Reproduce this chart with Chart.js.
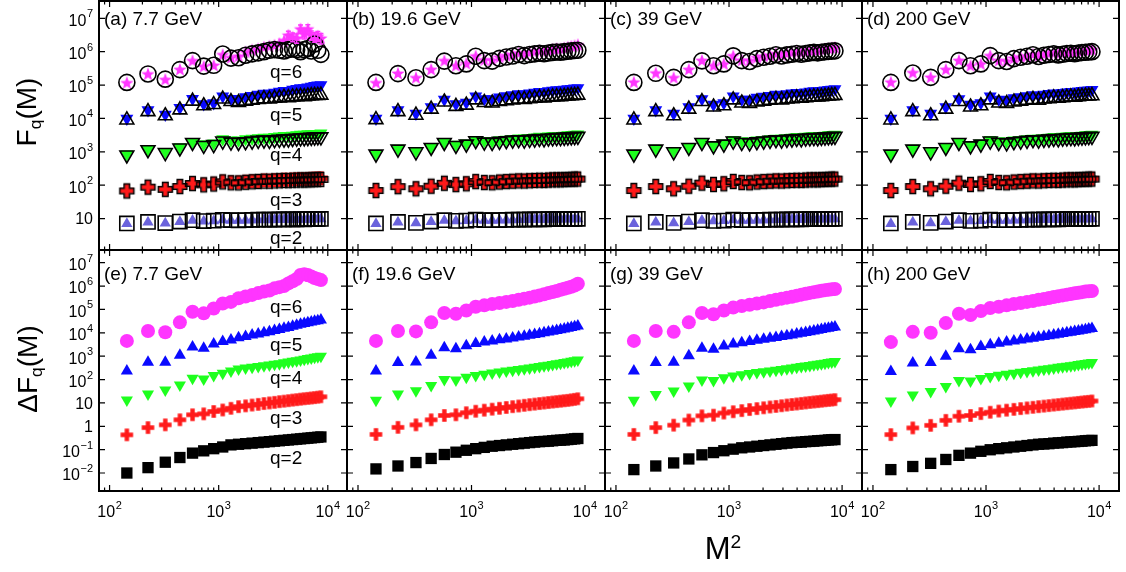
<!DOCTYPE html>
<html>
<head>
<meta charset="utf-8">
<script src="https://cdn.jsdelivr.net/npm/chart.js@4.4.1/dist/chart.umd.min.js"></script>
<style>
body { margin: 0; background: #fff; }
#fig { position: relative; width: 1126px; height: 572px; overflow: hidden; background: #fff;
       font-family: "Liberation Sans", Arial, sans-serif; color: #000; }
#fig canvas { position: absolute; }
.t { position: absolute; white-space: nowrap; line-height: 1; }
.t sub { font-size: 0.62em; vertical-align: -0.28em; }
.t sup { font-size: 0.62em; vertical-align: 0.62em; }
</style>
</head>
<body>
<div id="fig"></div>
<script>
// M^2 bins (x values)
const m2 = [144, 225, 324, 441, 576, 729, 900, 1089, 1296, 1521, 1764, 2025, 2304, 2601,
            2916, 3249, 3600, 3969, 4356, 4761, 5184, 5625, 6084, 6561, 7056, 7569, 8100, 8649];

// ticks
const xMajor = [100, 1000, 10000];
const xMinor = [90, 200, 300, 400, 500, 600, 700, 800, 900, 2000, 3000, 4000, 5000, 6000, 7000, 8000, 9000];
const xExps = [2, 3, 4];
const yExpsTop = [1, 2, 3, 4, 5, 6, 7];
const yExpsBot = [-2, -1, 0, 1, 2, 3, 4, 5, 6, 7];

const energies = ['7.7 GeV', '19.6 GeV', '39 GeV', '200 GeV'];
const qLabels = ['q=6', 'q=5', 'q=4', 'q=3', 'q=2'];

// ---- F_q(M), filled (coloured) and open (black) markers ----
// (a) 7.7 GeV
const a6f = [1.2e5,2.2e5,1.5e5,3.0e5,5.5e5,3.7e5,4.0e5,8.3e5,6.8e5,7.5e5,1.0e6,1.15e6,1.25e6,1.4e6,1.5e6,1.6e6,1.8e6,2.2e6,3.2e6,2.8e6,2.6e6,4.9e6,3.5e6,4.9e6,3.2e6,2.8e6,3.0e6,2.6e6];
const a6fErr = [0,0,0,0,0,0,0,0,0,0,0,0,0,0,0,0,0,0,9e5,8e5,8e5,1.4e6,1.1e6,1.5e6,1.0e6,9e5,1.0e6,9e5];
const a6o = [1.2e5,2.15e5,1.5e5,2.9e5,5.4e5,3.7e5,3.9e5,8.5e5,6.4e5,6.6e5,7.8e5,8.6e5,9.2e5,1.0e6,1.1e6,1.15e6,1.1e6,1.05e6,1.15e6,1.2e6,1.15e6,1.0e6,1.15e6,1.25e6,1.05e6,1.7e6,1.1e6,8.3e5];
const a5f = [1.0e4,1.8e4,1.3e4,2.1e4,3.9e4,2.7e4,2.9e4,4.6e4,3.9e4,3.9e4,4.4e4,4.8e4,5.2e4,5.6e4,5.6e4,6.0e4,6.4e4,6.8e4,6.8e4,7.3e4,7.7e4,8.1e4,8.1e4,8.6e4,9.0e4,9.5e4,9.8e4,1.0e5];
const a5o = [9.0e3,1.6e4,1.2e4,1.8e4,3.3e4,2.4e4,2.6e4,3.8e4,3.2e4,3.0e4,3.3e4,3.5e4,3.7e4,3.9e4,3.8e4,4.0e4,4.1e4,4.3e4,4.2e4,4.4e4,4.5e4,4.6e4,4.5e4,4.7e4,4.8e4,4.9e4,4.9e4,5.0e4];
const a4f = [850,1200,1000,1400,2000,1700,1800,2400,2200,2200,2400,2500,2600,2700,2700,2800,2900,3000,3000,3100,3200,3300,3300,3400,3400,3500,3500,3600];
const a4o = [800,1150,950,1300,1900,1550,1650,2100,1950,1900,2000,2100,2200,2250,2200,2300,2350,2400,2400,2500,2550,2600,2600,2650,2700,2750,2800,2800];
const a3f = [68,88,76,92,114,104,110,128,122,121,127,131,134,138,137,141,143,146,145,148,150,152,151,154,155,157,158,160];
const a3o = [67,87,75,91,112,102,108,125,118,117,122,126,129,132,131,134,136,138,137,140,141,143,142,144,145,147,148,149];
const a2f = [7.0,7.8,7.2,8.0,8.8,8.3,8.5,9.0,8.8,8.7,8.9,9.0,9.1,9.2,9.1,9.2,9.3,9.3,9.3,9.4,9.4,9.5,9.4,9.5,9.5,9.6,9.6,9.6];
const a2o = [7.1,7.9,7.3,8.1,8.9,8.4,8.6,9.1,8.9,8.8,9.0,9.1,9.2,9.3,9.2,9.3,9.4,9.4,9.4,9.5,9.5,9.6,9.5,9.6,9.6,9.7,9.7,9.7];
// (b) 19.6 GeV
const b6f = [1.2e5,2.3e5,1.7e5,3.0e5,5.5e5,3.9e5,4.5e5,7.6e5,5.8e5,5.7e5,7.0e5,7.8e5,8.4e5,9.3e5,8.8e5,9.6e5,1.02e6,1.08e6,1.05e6,1.12e6,1.2e6,1.26e6,1.25e6,1.32e6,1.4e6,1.48e6,1.55e6,1.65e6];
const b6o = [1.2e5,2.2e5,1.65e5,2.9e5,5.2e5,3.8e5,4.3e5,7.3e5,5.4e5,5.2e5,6.3e5,6.9e5,7.4e5,8.2e5,7.6e5,8.2e5,8.6e5,9.0e5,8.7e5,9.1e5,9.5e5,9.8e5,9.6e5,1.0e6,1.03e6,1.06e6,1.08e6,1.1e6];
const b5f = [1.0e4,1.8e4,1.4e4,2.2e4,3.7e4,2.7e4,3.0e4,4.6e4,3.8e4,3.8e4,4.3e4,4.7e4,5.0e4,5.4e4,5.3e4,5.7e4,6.0e4,6.3e4,6.2e4,6.6e4,6.9e4,7.1e4,7.1e4,7.4e4,7.6e4,7.8e4,8.0e4,8.2e4];
const b5o = [9.2e3,1.6e4,1.25e4,1.9e4,3.1e4,2.3e4,2.5e4,3.6e4,3.0e4,2.9e4,3.2e4,3.4e4,3.6e4,3.8e4,3.7e4,3.9e4,4.0e4,4.2e4,4.1e4,4.3e4,4.4e4,4.5e4,4.5e4,4.6e4,4.7e4,4.8e4,4.9e4,5.0e4];
const b4f = [880,1250,1050,1400,1950,1650,1800,2300,2150,2100,2250,2350,2450,2550,2550,2650,2750,2850,2800,2900,3000,3050,3050,3100,3200,3250,3300,3350];
const b4o = [850,1200,1000,1350,1900,1550,1700,2150,1950,1900,2050,2150,2250,2300,2250,2350,2400,2500,2450,2550,2600,2650,2650,2700,2750,2800,2850,2900];
const b3f = [70,91,79,94,116,106,112,130,122,120,126,130,134,137,136,139,141,143,143,145,147,149,148,150,152,153,155,156];
const b3o = [69,90,78,93,114,104,110,128,120,118,124,128,131,134,133,136,138,140,139,142,144,145,145,147,148,150,151,152];
const b2f = [7.0,7.8,7.3,8.0,8.8,8.4,8.6,9.1,8.8,8.8,8.9,9.0,9.1,9.2,9.2,9.3,9.3,9.4,9.4,9.5,9.5,9.5,9.5,9.6,9.6,9.6,9.7,9.7];
const b2o = [7.1,7.9,7.4,8.1,8.9,8.5,8.7,9.2,8.9,8.9,9.0,9.1,9.2,9.3,9.3,9.4,9.4,9.5,9.5,9.6,9.6,9.6,9.6,9.7,9.7,9.7,9.8,9.8];
// (c) 39 GeV
const c6f = [1.25e5,2.35e5,1.7e5,3.0e5,5.6e5,3.9e5,4.4e5,7.7e5,5.7e5,5.5e5,6.8e5,7.5e5,8.0e5,8.9e5,8.3e5,9.0e5,9.5e5,1.0e6,9.7e5,1.03e6,1.09e6,1.14e6,1.12e6,1.18e6,1.23e6,1.28e6,1.32e6,1.36e6];
const c6o = [1.2e5,2.25e5,1.7e5,2.9e5,5.3e5,3.8e5,4.3e5,7.5e5,5.4e5,5.1e5,6.2e5,6.8e5,7.3e5,8.1e5,7.4e5,8.0e5,8.4e5,8.8e5,8.4e5,8.8e5,9.2e5,9.5e5,9.2e5,9.6e5,9.9e5,1.02e6,1.04e6,1.06e6];
const c5f = [1.0e4,1.8e4,1.4e4,2.2e4,3.8e4,2.6e4,2.9e4,4.6e4,3.7e4,3.7e4,4.2e4,4.5e4,4.8e4,5.2e4,5.0e4,5.4e4,5.7e4,5.9e4,5.8e4,6.1e4,6.4e4,6.6e4,6.5e4,6.8e4,7.0e4,7.2e4,7.4e4,7.6e4];
const c5o = [9.0e3,1.6e4,1.2e4,1.9e4,3.2e4,2.2e4,2.4e4,3.6e4,2.9e4,2.8e4,3.1e4,3.3e4,3.5e4,3.7e4,3.6e4,3.8e4,3.9e4,4.1e4,4.0e4,4.2e4,4.3e4,4.4e4,4.4e4,4.5e4,4.6e4,4.7e4,4.8e4,4.9e4];
const c4f = [880,1250,1050,1400,2000,1600,1800,2300,2100,2050,2200,2300,2400,2500,2500,2600,2700,2800,2750,2850,2900,3000,2950,3050,3100,3200,3250,3300];
const c4o = [850,1200,1000,1350,1900,1500,1700,2100,1900,1850,2000,2100,2200,2300,2250,2350,2400,2500,2450,2550,2600,2650,2600,2700,2750,2800,2850,2900];
const c3f = [70,92,79,94,117,106,112,131,122,120,126,130,133,137,136,139,141,143,142,145,147,148,147,150,151,153,154,155];
const c3o = [69,91,78,93,115,105,110,129,120,118,124,128,131,134,133,136,138,140,139,142,144,145,144,147,148,150,151,152];
const c2f = [7.0,7.8,7.3,8.0,8.8,8.4,8.6,9.1,8.8,8.8,8.9,9.0,9.1,9.2,9.2,9.3,9.3,9.4,9.4,9.5,9.5,9.5,9.5,9.6,9.6,9.6,9.7,9.7];
const c2o = [7.1,7.9,7.4,8.1,8.9,8.5,8.7,9.2,8.9,8.9,9.0,9.1,9.2,9.3,9.3,9.4,9.4,9.5,9.5,9.6,9.6,9.6,9.6,9.7,9.7,9.7,9.8,9.8];
// (d) 200 GeV
const d6f = [1.25e5,2.4e5,1.75e5,3.0e5,5.6e5,3.9e5,4.4e5,7.8e5,5.6e5,5.3e5,6.5e5,7.1e5,7.6e5,8.5e5,7.8e5,8.4e5,8.9e5,9.4e5,8.9e5,9.4e5,9.9e5,1.03e6,1.0e6,1.05e6,1.09e6,1.12e6,1.15e6,1.18e6];
const d6o = [1.2e5,2.3e5,1.7e5,2.9e5,5.4e5,3.8e5,4.3e5,7.6e5,5.4e5,5.1e5,6.2e5,6.8e5,7.3e5,8.1e5,7.2e5,7.8e5,8.2e5,8.6e5,8.0e5,8.4e5,8.8e5,9.0e5,8.7e5,9.1e5,9.4e5,9.6e5,9.8e5,1.0e6];
const d5f = [1.0e4,1.8e4,1.4e4,2.2e4,3.8e4,2.6e4,2.9e4,4.6e4,3.7e4,3.6e4,4.1e4,4.4e4,4.7e4,5.0e4,4.8e4,5.2e4,5.5e4,5.7e4,5.6e4,5.9e4,6.1e4,6.3e4,6.2e4,6.5e4,6.7e4,6.9e4,7.0e4,7.2e4];
const d5o = [9.0e3,1.6e4,1.2e4,1.9e4,3.2e4,2.2e4,2.4e4,3.6e4,2.9e4,2.8e4,3.1e4,3.3e4,3.5e4,3.7e4,3.5e4,3.8e4,3.9e4,4.1e4,4.0e4,4.2e4,4.3e4,4.4e4,4.3e4,4.5e4,4.6e4,4.7e4,4.7e4,4.8e4];
const d4f = [880,1250,1050,1400,2000,1600,1800,2300,2100,2050,2200,2300,2400,2500,2500,2600,2700,2800,2750,2850,2900,3000,2950,3050,3100,3200,3250,3300];
const d4o = [850,1200,1000,1350,1900,1500,1700,2100,1900,1850,2000,2100,2200,2300,2250,2350,2400,2500,2450,2550,2600,2650,2600,2700,2750,2800,2850,2900];
const d3f = [70,92,79,94,117,106,112,131,122,120,126,130,133,137,136,139,141,143,142,145,147,148,147,150,151,153,154,155];
const d3o = [69,91,78,93,115,105,110,129,120,118,124,128,131,134,133,136,138,140,139,142,144,145,144,147,148,150,151,152];
const d2f = [7.0,7.8,7.3,8.0,8.8,8.4,8.6,9.1,8.8,8.8,8.9,9.0,9.1,9.2,9.2,9.3,9.3,9.4,9.4,9.5,9.5,9.5,9.5,9.6,9.6,9.6,9.7,9.7];
const d2o = [7.1,7.9,7.4,8.1,8.9,8.5,8.7,9.2,8.9,8.9,9.0,9.1,9.2,9.3,9.3,9.4,9.4,9.5,9.5,9.6,9.6,9.6,9.6,9.7,9.7,9.7,9.8,9.8];

// ---- ΔF_q(M) ----
const e6 = [4.5e3,1.2e4,1.05e4,2.8e4,8.0e4,6.8e4,1.1e5,1.8e5,2.1e5,3.0e5,3.6e5,4.2e5,5.0e5,5.8e5,6.5e5,8.0e5,9.0e5,1.0e6,1.3e6,1.6e6,2.0e6,3.0e6,3.2e6,3.0e6,2.6e6,2.2e6,2.0e6,1.8e6];
const e6Err = [0,0,0,0,0,0,0,0,0,0,0,0,0,0,0,0,0,0,0,0,0,0,0,1.4e6,0,0,0,0];
const e5 = [235,550,550,1100,2500,2200,3300,4200,4900,6200,7000,8000,9000,1.0e4,1.1e4,1.25e4,1.4e4,1.55e4,1.7e4,1.9e4,2.1e4,2.3e4,2.5e4,2.7e4,2.9e4,3.1e4,3.3e4,3.5e4];
const e4 = [13.4,24,36,59,114,106,148,187,234,285,310,335,360,390,420,450,480,520,560,600,640,690,740,790,840,890,950,1000];
const e3 = [0.43,0.88,1.15,1.9,3.1,3.4,4.3,5.0,5.9,6.9,7.5,8.1,8.7,9.4,10,10.6,11.3,11.9,12.5,13.2,13.8,14.5,15.1,15.7,16.3,16.9,17.6,18.3];
const e2 = [0.010,0.017,0.029,0.046,0.071,0.089,0.11,0.13,0.16,0.17,0.18,0.19,0.20,0.21,0.22,0.23,0.24,0.25,0.26,0.27,0.28,0.29,0.30,0.31,0.32,0.33,0.34,0.35];
const f6 = [4.5e3,1.2e4,1.15e4,2.8e4,7.0e4,6.5e4,9.0e4,1.3e5,1.5e5,1.7e5,1.9e5,2.1e5,2.3e5,2.6e5,2.9e5,3.2e5,3.6e5,4.0e5,4.5e5,5.0e5,5.6e5,6.2e5,6.9e5,7.6e5,8.4e5,9.3e5,1.05e6,1.25e6];
const f5 = [230,540,560,1100,2300,2100,2800,3500,4000,4500,5000,5500,6000,6600,7200,7800,8500,9200,1.0e4,1.08e4,1.17e4,1.26e4,1.36e4,1.47e4,1.58e4,1.7e4,1.83e4,1.97e4];
const f4 = [13,24,33,55,100,95,125,150,170,190,210,230,250,270,290,310,335,360,385,410,440,470,500,530,565,600,640,690];
const f3 = [0.45,0.9,1.15,1.9,2.9,3.1,3.8,4.4,4.9,5.4,5.9,6.4,6.9,7.4,7.9,8.4,8.9,9.4,9.9,10.4,10.9,11.4,11.9,12.4,12.9,13.5,14.2,15.0];
const f2 = [0.015,0.02,0.028,0.042,0.062,0.078,0.094,0.11,0.125,0.14,0.15,0.16,0.17,0.18,0.19,0.20,0.21,0.22,0.225,0.23,0.24,0.25,0.255,0.26,0.27,0.28,0.29,0.30];
const g6 = [4.5e3,1.2e4,1.1e4,2.8e4,7.0e4,6.2e4,9.0e4,1.2e5,1.4e5,1.6e5,1.8e5,2.0e5,2.3e5,2.6e5,2.9e5,3.2e5,3.5e5,3.9e5,4.3e5,4.7e5,5.1e5,5.5e5,5.9e5,6.3e5,6.7e5,7.0e5,7.3e5,7.5e5];
const g5 = [230,530,550,1050,2200,2000,2700,3300,3800,4300,4800,5300,5800,6300,6900,7500,8100,8800,9500,1.03e4,1.1e4,1.19e4,1.28e4,1.38e4,1.48e4,1.58e4,1.68e4,1.78e4];
const g4 = [13,23,32,53,95,90,118,142,162,180,198,216,234,252,272,292,314,336,358,380,404,428,452,476,502,530,560,590];
const g3 = [0.45,0.88,1.12,1.85,2.8,3.0,3.7,4.2,4.7,5.2,5.7,6.2,6.7,7.1,7.6,8.1,8.6,9.0,9.5,10,10.5,11,11.4,11.9,12.4,12.9,13.3,13.8];
const g2 = [0.014,0.02,0.027,0.04,0.06,0.075,0.09,0.105,0.12,0.13,0.14,0.15,0.16,0.17,0.18,0.19,0.2,0.205,0.21,0.22,0.225,0.23,0.24,0.245,0.25,0.26,0.265,0.27];
const h6 = [4.0e3,1.1e4,1.0e4,2.6e4,6.5e4,5.8e4,8.5e4,1.15e5,1.3e5,1.5e5,1.7e5,1.9e5,2.1e5,2.3e5,2.6e5,2.8e5,3.1e5,3.4e5,3.7e5,4.0e5,4.3e5,4.6e5,4.9e5,5.2e5,5.5e5,5.8e5,6.0e5,6.2e5];
const h5 = [220,510,530,1000,2100,1900,2600,3100,3600,4000,4500,4900,5400,5900,6400,6900,7500,8100,8700,9300,1.0e4,1.07e4,1.14e4,1.21e4,1.28e4,1.36e4,1.44e4,1.52e4];
const h4 = [12,22,31,51,90,86,112,135,153,170,187,204,221,238,256,274,293,312,332,352,372,393,414,436,458,481,505,530];
const h3 = [0.44,0.85,1.1,1.8,2.7,2.9,3.5,4.0,4.5,4.9,5.3,5.7,6.1,6.5,6.9,7.3,7.7,8.1,8.5,8.9,9.3,9.7,10.1,10.5,10.9,11.3,11.7,12.1];
const h2 = [0.014,0.019,0.026,0.038,0.057,0.071,0.085,0.099,0.11,0.12,0.13,0.14,0.15,0.16,0.17,0.175,0.18,0.19,0.195,0.2,0.21,0.215,0.22,0.225,0.23,0.24,0.245,0.25];

// ---- layout ----
const fig = document.getElementById('fig');
const colEdges = [[99, 347], [347, 605], [605, 862], [862, 1119]];
const rowEdges = [[1, 250], [250, 491]];
const FONT = '"Liberation Sans", Arial, sans-serif';

const PINK = '#ff35ff', BLUE = '#0a0aff', GREEN = '#1eff1e', RED = '#ff1a1a', SLATE = '#6a62dc';

function starImg(color, r) {
  const c = document.createElement('canvas');
  const s = Math.ceil(r * 2 + 2);
  c.width = c.height = s;
  const g = c.getContext('2d');
  g.translate(s / 2, s / 2 + 0.8);
  g.beginPath();
  for (let i = 0; i < 10; i++) {
    const rr = i % 2 ? r * 0.42 : r;
    const ang = -Math.PI / 2 + i * Math.PI / 5;
    g.lineTo(rr * Math.cos(ang), rr * Math.sin(ang));
  }
  g.closePath();
  g.fillStyle = color;
  g.fill();
  return c;
}

function plusImg(size, th, fill, stroke, lw) {
  const c = document.createElement('canvas');
  const s = Math.ceil(size + lw * 2 + 2);
  c.width = c.height = s;
  const g = c.getContext('2d');
  g.translate(s / 2, s / 2);
  const a = size / 2, b = th / 2;
  g.beginPath();
  g.moveTo(-b, -a); g.lineTo(b, -a); g.lineTo(b, -b); g.lineTo(a, -b); g.lineTo(a, b); g.lineTo(b, b);
  g.lineTo(b, a); g.lineTo(-b, a); g.lineTo(-b, b); g.lineTo(-a, b); g.lineTo(-a, -b); g.lineTo(-b, -b);
  g.closePath();
  if (fill) { g.fillStyle = fill; g.fill(); }
  if (stroke) { g.strokeStyle = stroke; g.lineWidth = lw; g.stroke(); }
  return c;
}

const starPink = starImg(PINK, 7);
const plusRedTop = plusImg(14, 5.5, RED, null, 0);
const plusOutline = plusImg(14, 5.5, null, '#000', 1.5);
const plusRedBot = plusImg(12.5, 4.4, RED, null, 0);

// marker styles, index = q6..q2
const topFilled = [
  { pointStyle: starPink, pointRadius: 7, errColor: PINK },
  { pointStyle: 'triangle', pointRadius: 7.5, pointRotation: 180, pointBackgroundColor: BLUE },
  { pointStyle: 'triangle', pointRadius: 7.5, pointRotation: 180, pointBackgroundColor: GREEN },
  { pointStyle: plusRedTop, pointRadius: 7 },
  { pointStyle: 'triangle', pointRadius: 6.5, pointBackgroundColor: SLATE }
];
const topOpen = [
  { pointStyle: 'circle', pointRadius: 8 },
  { pointStyle: 'triangle', pointRadius: 8 },
  { pointStyle: 'triangle', pointRadius: 8, pointRotation: 180 },
  { pointStyle: plusOutline, pointRadius: 7 },
  { pointStyle: 'rect', pointRadius: 10 }
];
const botStyles = [
  { pointStyle: 'circle', pointRadius: 7, pointBackgroundColor: PINK, errColor: PINK },
  { pointStyle: 'triangle', pointRadius: 7, pointBackgroundColor: BLUE },
  { pointStyle: 'triangle', pointRadius: 7, pointRotation: 180, pointBackgroundColor: GREEN },
  { pointStyle: plusRedBot, pointRadius: 6 },
  { pointStyle: 'rect', pointRadius: 8, pointBackgroundColor: '#000' }
];

function series(arr, style, open, err) {
  return Object.assign({
    data: m2.map((x, i) => ({ x: x, y: arr[i] })),
    errY: err || null,
    pointBorderWidth: open ? 1.6 : 0,
    pointBorderColor: '#000',
    pointBackgroundColor: 'rgba(0,0,0,0)',
    order: open ? 0 : 1
  }, style);
}

function drawPow(ctx, exp, x, y, align) {
  const base = exp === 0 ? '1' : '10';
  const sup = (exp === 0 || exp === 1) ? '' : (exp < 0 ? '\u2212' + (-exp) : String(exp));
  ctx.font = '16px ' + FONT;
  const wb = ctx.measureText(base).width;
  ctx.font = '11px ' + FONT;
  const ws = sup ? ctx.measureText(sup).width + 0.5 : 0;
  const x0 = align === 'right' ? x - wb - ws : x - (wb + ws) / 2;
  ctx.textAlign = 'left';
  ctx.textBaseline = 'middle';
  ctx.fillStyle = '#000';
  ctx.font = '16px ' + FONT;
  ctx.fillText(base, x0, y);
  if (sup) {
    ctx.font = '11px ' + FONT;
    ctx.fillText(sup, x0 + wb + 0.5, y - 7);
  }
}

const framePlugin = {
  id: 'frame',
  afterDatasetsDraw(chart, args, o) {
    const ctx = chart.ctx, a = chart.chartArea;
    const xs = chart.scales.x, ys = chart.scales.y;
    ctx.save();
    // error bars
    chart.data.datasets.forEach((d, i) => {
      if (!d.errY) return;
      ctx.strokeStyle = d.errColor || '#000';
      ctx.lineWidth = 1.5;
      ctx.beginPath();
      d.data.forEach((p, j) => {
        const e = d.errY[j];
        if (!e) return;
        const px = xs.getPixelForValue(p.x);
        const y1 = ys.getPixelForValue(p.y + e);
        const y2 = ys.getPixelForValue(Math.max(p.y - e, p.y * 0.2));
        ctx.moveTo(px, y1); ctx.lineTo(px, y2);
        ctx.moveTo(px - 2.5, y1); ctx.lineTo(px + 2.5, y1);
        ctx.moveTo(px - 2.5, y2); ctx.lineTo(px + 2.5, y2);
      });
      ctx.stroke();
    });
    ctx.strokeStyle = '#000';
    ctx.lineWidth = 1.2;
    ctx.beginPath();
    const xt = (v, len) => {
      const px = xs.getPixelForValue(v);
      if (px < a.left + 1 || px > a.right - 1) return;
      ctx.moveTo(px, a.bottom); ctx.lineTo(px, a.bottom - len);
      ctx.moveTo(px, a.top); ctx.lineTo(px, a.top + len);
    };
    xMajor.forEach(v => xt(v, 6));
    xMinor.forEach(v => xt(v, 3.5));
    o.yExps.forEach(e => {
      const py = ys.getPixelForValue(Math.pow(10, e));
      if (py < a.top + 1 || py > a.bottom - 1) return;
      ctx.moveTo(a.left, py); ctx.lineTo(a.left + 6, py);
      ctx.moveTo(a.right, py); ctx.lineTo(a.right - 6, py);
    });
    ctx.stroke();
    ctx.lineWidth = 2;
    ctx.strokeRect(a.left, a.top, a.right - a.left, a.bottom - a.top);
    if (o.yLabels) {
      o.yExps.forEach(e => {
        const py = ys.getPixelForValue(Math.pow(10, e));
        const off = (e === 0 || e === 1) ? 1.5 : 3;
        drawPow(ctx, e, a.left - 6, py + off, 'right');
      });
    }
    if (o.xLabels) {
      xExps.forEach(e => {
        drawPow(ctx, e, xs.getPixelForValue(Math.pow(10, e)), a.bottom + 22, 'center');
      });
    }
    ctx.restore();
  }
};

function makePanel(row, col, datasets, yMin, yMax, yExps) {
  const fx0 = colEdges[col][0], fx1 = colEdges[col][1];
  const fy0 = rowEdges[row][0], fy1 = rowEdges[row][1];
  const pl = col === 0 ? fx0 : 24, pr = 24, pt = 4, pb = row === 1 ? 50 : 4;
  const w = fx1 - fx0 + pl + pr, h = fy1 - fy0 + pt + pb;
  const cv = document.createElement('canvas');
  cv.width = w; cv.height = h;
  cv.style.width = w + 'px'; cv.style.height = h + 'px';
  cv.style.left = (fx0 - pl) + 'px'; cv.style.top = (fy0 - pt) + 'px';
  fig.appendChild(cv);
  new Chart(cv, {
    type: 'scatter',
    data: { datasets: datasets },
    options: {
      responsive: false,
      maintainAspectRatio: false,
      animation: false,
      events: [],
      layout: { autoPadding: false, padding: { left: pl, right: pr, top: pt, bottom: pb } },
      plugins: {
        legend: { display: false },
        tooltip: { enabled: false },
        frame: { yLabels: col === 0, xLabels: row === 1, yExps: yExps }
      },
      scales: {
        x: { type: 'logarithmic', min: 80, max: 15000, display: false },
        y: { type: 'logarithmic', min: yMin, max: yMax, display: false }
      }
    },
    plugins: [framePlugin]
  });
}

const topFill = [[a6f, a5f, a4f, a3f, a2f], [b6f, b5f, b4f, b3f, b2f], [c6f, c5f, c4f, c3f, c2f], [d6f, d5f, d4f, d3f, d2f]];
const topOpenData = [[a6o, a5o, a4o, a3o, a2o], [b6o, b5o, b4o, b3o, b2o], [c6o, c5o, c4o, c3o, c2o], [d6o, d5o, d4o, d3o, d2o]];
const botData = [[e6, e5, e4, e3, e2], [f6, f5, f4, f3, f2], [g6, g5, g4, g3, g2], [h6, h5, h4, h3, h2]];

for (let c = 0; c < 4; c++) {
  const ds = [];
  for (let k = 0; k < 5; k++) {
    ds.push(series(topOpenData[c][k], topOpen[k], true));
    ds.push(series(topFill[c][k], topFilled[k], false, (c === 0 && k === 0) ? a6fErr : null));
  }
  makePanel(0, c, ds, 1.14, 3.3e7, yExpsTop);
  const bds = botData[c].map((arr, k) => series(arr, botStyles[k], false, (c === 0 && k === 0) ? e6Err : null));
  makePanel(1, c, bds, 1.7e-3, 3.5e7, yExpsBot);
}

// ---- text ----
function addText(html, left, top, size, extra) {
  const d = document.createElement('div');
  d.className = 't';
  d.innerHTML = html;
  d.style.left = left + 'px';
  d.style.top = top + 'px';
  d.style.fontSize = size + 'px';
  if (extra) Object.assign(d.style, extra);
  fig.appendChild(d);
}
const letters = ['a', 'b', 'c', 'd', 'e', 'f', 'g', 'h'];
for (let c = 0; c < 4; c++) {
  addText('(' + letters[c] + ') ' + energies[c], colEdges[c][0] + 5, 9, 19);
  addText('(' + letters[c + 4] + ') ' + energies[c], colEdges[c][0] + 5, 264, 19);
}
const qTop = [62, 104.5, 144.5, 189.5, 228];
const qBot = [296.5, 334.5, 368, 408, 448];
qLabels.forEach((t, k) => {
  addText(t, 270, qTop[k], 19);
  addText(t, 270, qBot[k], 19);
});
const rot = { transform: 'translate(-50%, -50%) rotate(-90deg)' };
addText('F<sub>q</sub>(M)', 29, 112, 28, rot);
addText('\u0394F<sub>q</sub>(M)', 30, 369, 28, rot);
addText('M<sup>2</sup>', 723, 548, 31, { transform: 'translate(-50%, -50%)' });
</script>
</body>
</html>
